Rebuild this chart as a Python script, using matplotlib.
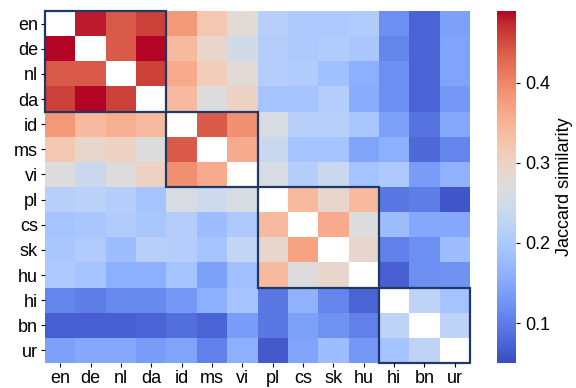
import numpy as np
import matplotlib
matplotlib.use("Agg")
import matplotlib.pyplot as plt
from matplotlib.patches import Rectangle

plt.rcParams['font.family'] = ['Liberation Sans', 'DejaVu Sans']

langs = ["en", "de", "nl", "da", "id", "ms", "vi", "pl", "cs", "sk", "hu", "hi", "bn", "ur"]
nan = np.nan
rows = {
    "en": [nan, 0.48, 0.44, 0.46, 0.38, 0.32, 0.28, 0.215, 0.20, 0.20, 0.205, 0.12, 0.075, 0.14],
    "de": [0.49, nan, 0.44, 0.49, 0.34, 0.29, 0.25, 0.21, 0.20, 0.205, 0.195, 0.11, 0.075, 0.145],
    "nl": [0.44, 0.44, nan, 0.46, 0.36, 0.31, 0.28, 0.21, 0.205, 0.185, 0.16, 0.12, 0.075, 0.145],
    "da": [0.46, 0.49, 0.46, nan, 0.34, 0.27, 0.30, 0.19, 0.19, 0.21, 0.155, 0.12, 0.075, 0.13],
    "id": [0.38, 0.34, 0.355, 0.34, nan, 0.44, 0.39, 0.26, 0.215, 0.215, 0.195, 0.14, 0.09, 0.15],
    "ms": [0.32, 0.29, 0.30, 0.27, 0.44, nan, 0.36, 0.24, 0.19, 0.19, 0.145, 0.16, 0.08, 0.11],
    "vi": [0.27, 0.24, 0.27, 0.30, 0.39, 0.36, nan, 0.26, 0.21, 0.24, 0.19, 0.20, 0.135, 0.165],
    "pl": [0.215, 0.22, 0.21, 0.19, 0.26, 0.245, 0.26, nan, 0.34, 0.29, 0.34, 0.095, 0.10, 0.06],
    "cs": [0.19, 0.195, 0.205, 0.195, 0.21, 0.18, 0.20, 0.34, nan, 0.36, 0.27, 0.18, 0.15, 0.15],
    "sk": [0.195, 0.205, 0.18, 0.215, 0.21, 0.19, 0.23, 0.29, 0.37, nan, 0.29, 0.105, 0.12, 0.18],
    "hu": [0.20, 0.19, 0.16, 0.16, 0.19, 0.14, 0.185, 0.34, 0.27, 0.29, nan, 0.07, 0.12, 0.125],
    "hi": [0.11, 0.10, 0.115, 0.115, 0.13, 0.16, 0.19, 0.095, 0.165, 0.11, 0.075, nan, 0.225, 0.19],
    "bn": [0.07, 0.07, 0.07, 0.075, 0.085, 0.075, 0.135, 0.095, 0.14, 0.125, 0.105, 0.225, nan, 0.225],
    "ur": [0.14, 0.15, 0.15, 0.135, 0.145, 0.105, 0.16, 0.065, 0.145, 0.18, 0.13, 0.19, 0.225, nan],
}
groups = [(0, 4), (4, 7), (7, 11), (11, 14)]
vmin, vmax = 0.05, 0.49

data = np.array([rows[l] for l in langs])

fig = plt.figure(figsize=(5.76, 3.88), dpi=100)
ax = fig.add_axes([45/576, 1 - 363/388, (470-45)/576, (363-11)/388])
cax = fig.add_axes([497/576, 1 - 363/388, (516-497)/576, (363-11)/388])

mesh = ax.pcolormesh(np.ma.masked_invalid(data), cmap='coolwarm', vmin=vmin, vmax=vmax)
ax.set_xlim(0, len(langs))
ax.set_ylim(len(langs), 0)
ax.set_xticks(np.arange(len(langs)) + 0.5)
ax.set_yticks(np.arange(len(langs)) + 0.5)
ax.set_xticklabels(langs, fontsize=13)
ax.set_yticklabels(langs, fontsize=13)
for s in ax.spines.values():
    s.set_visible(False)
ax.tick_params(length=3, pad=2)

for a, b in groups:
    ax.add_patch(Rectangle((a, a), b - a, b - a, fill=False, edgecolor='#1f3864', lw=1.6, clip_on=False))

cb = fig.colorbar(mesh, cax=cax)
cb.outline.set_visible(False)
cb.set_ticks([0.1, 0.2, 0.3, 0.4])
cb.ax.tick_params(labelsize=13, length=3)
cb.set_label('Jaccard similarity', fontsize=13)

fig.savefig('out.png', dpi=100)
